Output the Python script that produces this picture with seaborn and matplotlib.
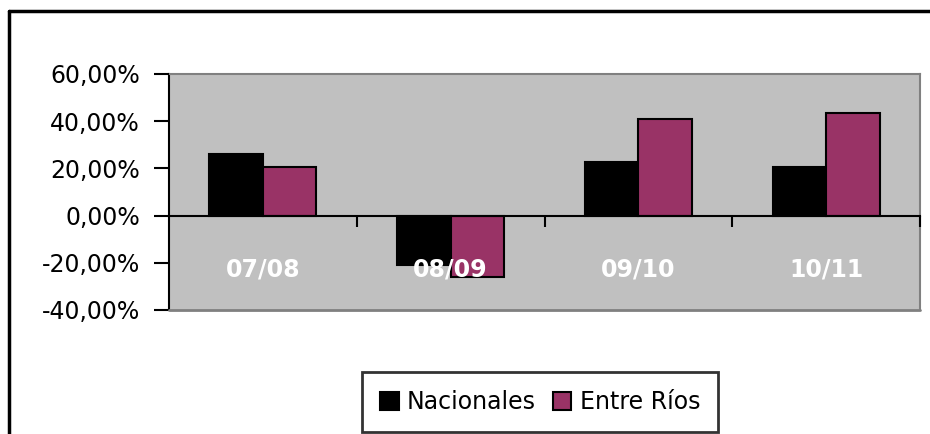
import matplotlib
matplotlib.use("Agg")
import matplotlib.pyplot as plt
import seaborn as sns
import pandas as pd
from matplotlib.patches import Patch
from matplotlib.lines import Line2D
from matplotlib.ticker import FuncFormatter, FixedLocator

categories = ["07/08", "08/09", "09/10", "10/11"]
nacionales = [26.0, -21.1, 22.8, 20.7]
entre_rios = [20.4, -26.2, 40.8, 43.3]
series_names = ["Nacionales", "Entre Ríos"]
y_ticks = [-40, -20, 0, 20, 40, 60]

df = pd.DataFrame({
    "cat": categories * 2,
    "serie": [series_names[0]] * 4 + [series_names[1]] * 4,
    "val": nacionales + entre_rios,
})

sns.set_theme(style="white")
plt.rcParams["font.family"] = ["DejaVu Sans"]
plt.rcParams["text.color"] = "black"
plt.rcParams["xtick.color"] = "black"
plt.rcParams["ytick.color"] = "black"

fig = plt.figure(figsize=(9.3, 4.34), dpi=100)
ax = fig.add_axes([169 / 930, 1 - 310 / 434, (920 - 169) / 930, (310 - 74) / 434])
ax.set_facecolor("#C0C0C0")

palette = {"Nacionales": "#000000", "Entre Ríos": "#993366"}
sns.barplot(data=df, x="cat", y="val", hue="serie", order=categories,
            hue_order=series_names, palette=palette, width=0.57, saturation=1,
            edgecolor="black", linewidth=1.5, ax=ax, legend=False, gap=0)
ax.set_axisbelow(False)

ax.set_xlim(-0.5, len(categories) - 0.5)
ax.set_ylim(-40, 60)
ax.set_yticks(y_ticks)
ax.yaxis.set_major_formatter(FuncFormatter(lambda v, p: f"{v:.2f}%".replace(".", ",")))
ax.tick_params(axis="y", direction="out", length=11, width=1.5, color="black",
               labelsize=17, pad=10, left=True, labelcolor="black")
ax.set_xlabel("")
ax.set_ylabel("")

# bottom spine at zero
ax.spines["bottom"].set_position(("data", 0))
ax.spines["bottom"].set_color("black")
ax.spines["bottom"].set_linewidth(1.5)
ax.spines["left"].set_color("black")
ax.spines["left"].set_linewidth(1.5)
for s in ["top", "right"]:
    ax.spines[s].set_visible(True)
    ax.spines[s].set_color("#808080")
    ax.spines[s].set_linewidth(1.5)
ax.plot([0, 1], [0, 0], transform=ax.transAxes, color="#808080", lw=2, clip_on=False, zorder=5)

ax.set_xticks(range(len(categories)))
ax.set_xticklabels(categories)
ax.xaxis.set_minor_locator(FixedLocator([i + 0.5 for i in range(len(categories))]))
ax.tick_params(axis="x", which="major", length=0, pad=30, labelsize=17, labelcolor="white", bottom=True)
ax.tick_params(axis="x", which="minor", direction="out", length=8, width=1.5, color="black", bottom=True)
for lbl in ax.get_xticklabels():
    lbl.set_fontweight("bold")

# legend
handles = [Patch(facecolor=palette[n], edgecolor="black", linewidth=1.5, label=n) for n in series_names]
leg = fig.legend(handles=handles, loc="center", bbox_to_anchor=(540 / 930, 1 - 402 / 434),
                 ncol=2, fontsize=17, frameon=True, fancybox=False, handlelength=0.8,
                 handleheight=0.8, handletextpad=0.35, columnspacing=0.7,
                 borderpad=0.75, borderaxespad=0, labelcolor="black")
leg.get_frame().set_edgecolor("black")
leg.get_frame().set_linewidth(2)

# figure border (partially visible)
fig.add_artist(Line2D([9 / 930, 9 / 930], [0, 1 - 11 / 434], color="black", lw=2.5, transform=fig.transFigure))
fig.add_artist(Line2D([9 / 930, 1], [1 - 11 / 434, 1 - 11 / 434], color="black", lw=2.5, transform=fig.transFigure))

fig.savefig("out.png", dpi=100, facecolor="white")
